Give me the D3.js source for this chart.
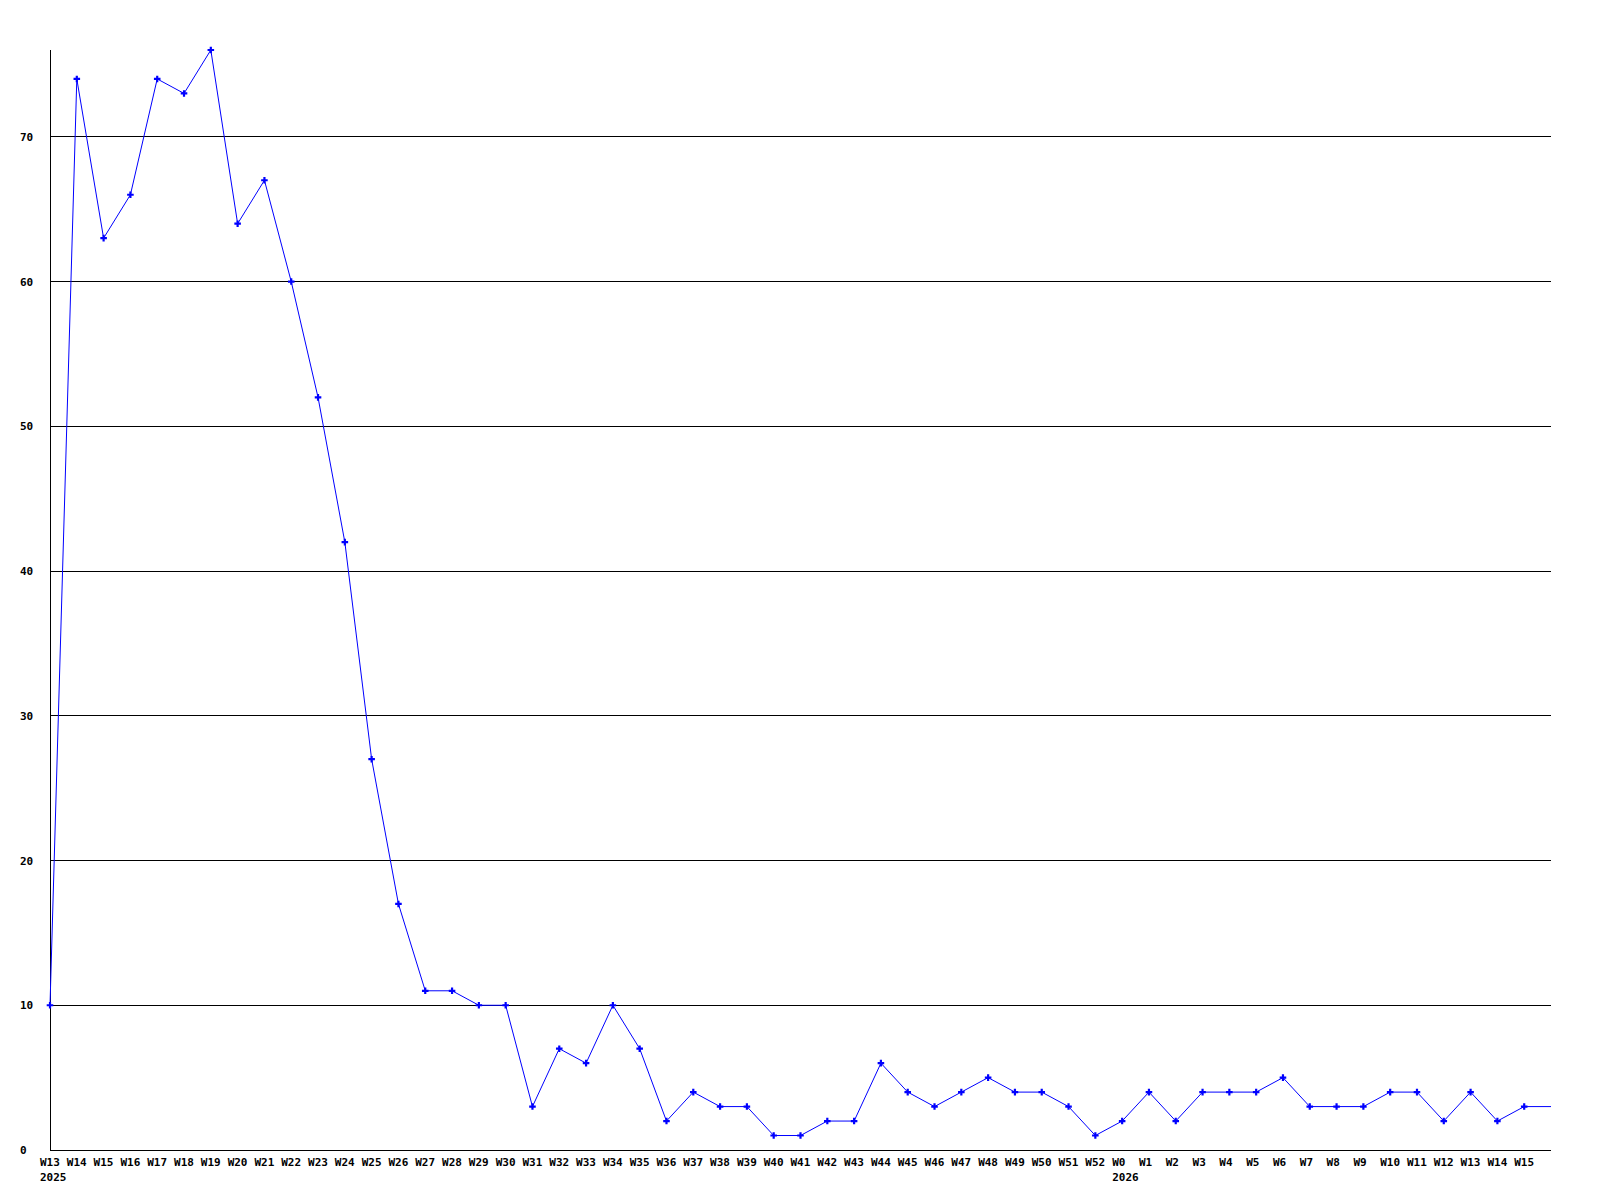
<!DOCTYPE html>
<html>
<head>
<meta charset="utf-8">
<script src="https://cdn.jsdelivr.net/npm/d3@7"></script>
<style>
  body { margin: 0; background: #fff; }
  svg { display: block; }
  text { font-family: "DejaVu Sans Mono", monospace; font-weight: bold; font-size: 11px; fill: #000; }
  .grid, .axis { stroke: #000; stroke-width: 1; shape-rendering: crispEdges; }
</style>
</head>
<body>
<svg width="1600" height="1200"></svg>
<script>
var weeks = ['W13', 'W14', 'W15', 'W16', 'W17', 'W18', 'W19', 'W20', 'W21', 'W22',
  'W23', 'W24', 'W25', 'W26', 'W27', 'W28', 'W29', 'W30', 'W31', 'W32',
  'W33', 'W34', 'W35', 'W36', 'W37', 'W38', 'W39', 'W40', 'W41', 'W42',
  'W43', 'W44', 'W45', 'W46', 'W47', 'W48', 'W49', 'W50', 'W51', 'W52',
  'W0', 'W1', 'W2', 'W3', 'W4', 'W5', 'W6', 'W7', 'W8', 'W9',
  'W10', 'W11', 'W12', 'W13', 'W14', 'W15'];

var counts = [10, 74, 63, 66, 74, 73, 76, 64, 67, 60,
  52, 42, 27, 17, 11, 11, 10, 10, 3, 7,
  6, 10, 7, 2, 4, 3, 3, 1, 1, 2,
  2, 6, 4, 3, 4, 5, 4, 4, 3, 1,
  2, 4, 2, 4, 4, 4, 5, 3, 3, 3,
  4, 4, 2, 4, 2, 3];

// year label sits under the first week of that year
var years = [{ index: 0, label: '2025' }, { index: 40, label: '2026' }];

var yTicks = [0, 10, 20, 30, 40, 50, 60, 70];

var svg = d3.select('svg');

var x = d3.scaleLinear().domain([0, weeks.length]).range([50, 1551]);
var y = d3.scaleLinear().domain([0, 76]).range([1150, 50]);

// gridlines
svg.append('g')
  .selectAll('line')
  .data(yTicks.filter(function(d) { return d > 0; }))
  .enter()
  .append('line')
  .attr('class', 'grid')
  .attr('x1', x.range()[0])
  .attr('x2', x.range()[1])
  .attr('y1', function(d) { return y(d); })
  .attr('y2', function(d) { return y(d); });

// axes
svg.append('line').attr('class', 'axis')
  .attr('x1', x.range()[0]).attr('x2', x.range()[0])
  .attr('y1', y.range()[1]).attr('y2', y.range()[0]);
svg.append('line').attr('class', 'axis')
  .attr('x1', x.range()[0]).attr('x2', x.range()[1])
  .attr('y1', y(0)).attr('y2', y(0));

// y labels
svg.append('g')
  .selectAll('text')
  .data(yTicks)
  .enter()
  .append('text')
  .attr('x', 20)
  .attr('y', function(d) { return y(d) + 4; })
  .text(function(d) { return d; });

// week labels
svg.append('g')
  .selectAll('text')
  .data(weeks)
  .enter()
  .append('text')
  .attr('x', function(d, i) { return x(i) - 10; })
  .attr('y', 1166)
  .text(function(d) { return d; });

svg.append('g')
  .selectAll('text')
  .data(years)
  .enter()
  .append('text')
  .attr('x', function(d) { return x(d.index) - 10; })
  .attr('y', 1181)
  .text(function(d) { return d.label; });

// line, carried flat to the right edge of the plot
var pts = counts.map(function(v, i) { return [i, v]; });
pts.push([weeks.length, counts[counts.length - 1]]);

var line = d3.line()
  .x(function(d) { return x(d[0]); })
  .y(function(d) { return y(d[1]); });

svg.append('path')
  .datum(pts)
  .attr('d', line)
  .attr('fill', 'none')
  .attr('stroke', '#0000ff')
  .attr('stroke-width', 1);

svg.append('g')
  .selectAll('path')
  .data(counts)
  .enter()
  .append('path')
  .attr('d', d3.symbol().type(d3.symbolCross).size(24))
  .attr('transform', function(d, i) { return 'translate(' + x(i) + ',' + y(d) + ')'; })
  .attr('fill', '#0000ff');
</script>
</body>
</html>
